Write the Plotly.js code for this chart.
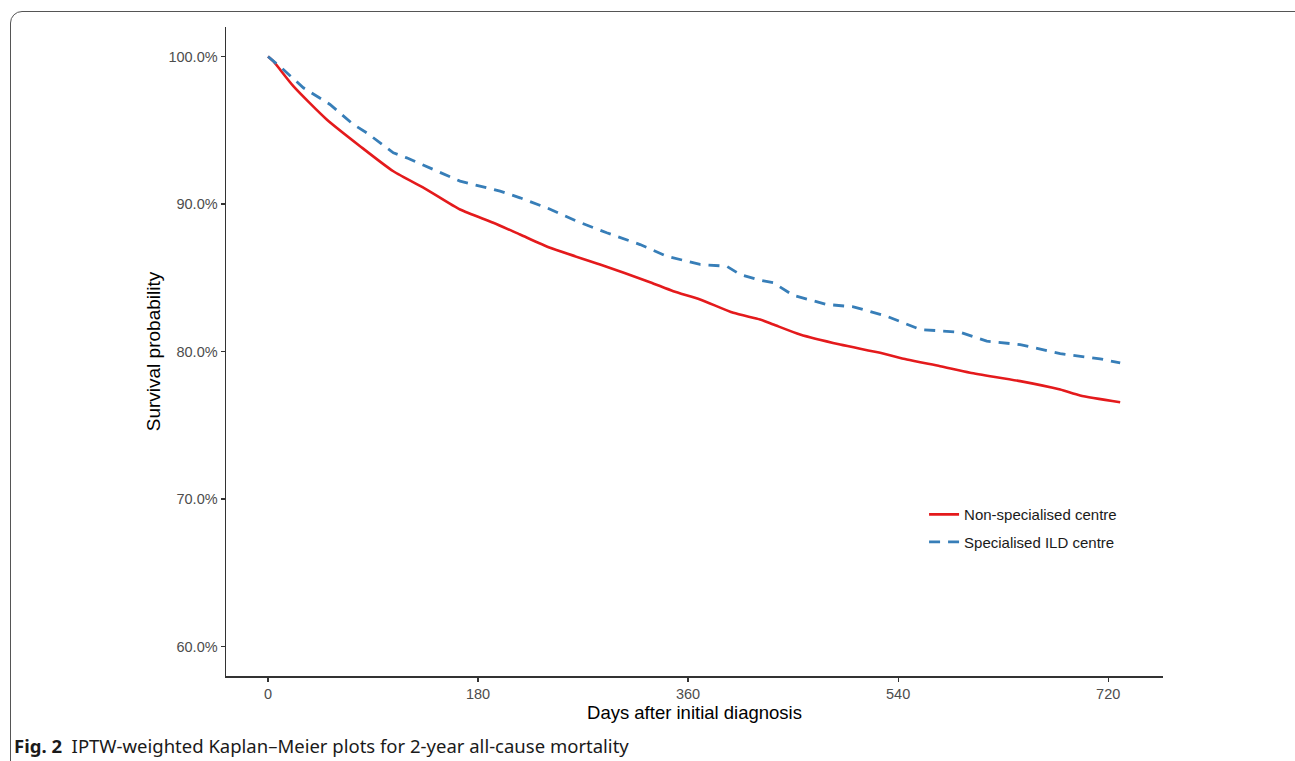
<!DOCTYPE html>
<html>
<head>
<meta charset="utf-8">
<script src="https://cdn.plot.ly/plotly-3.0.1.min.js"></script>
<style>
  html, body { margin: 0; padding: 0; background: #ffffff; }
  #wrap { position: relative; width: 1295px; height: 761px; overflow: hidden; }
  #frame { position: absolute; left: 10px; top: 11px; width: 1300px; height: 800px;
           border: 1.5px solid #555555; border-radius: 12px; box-sizing: border-box; }
  #chart { position: absolute; left: 0; top: 0; width: 1295px; height: 761px; }
</style>
</head>
<body>
<div id="wrap">
  <div id="frame"></div>
  <div id="chart"></div>
</div>
<script>
// Days after initial diagnosis and survival probability (%)
const nonSpecDays = [0, 4.5, 21.7, 50.3, 78.9, 107.4, 136, 164.6, 193.1, 216, 241.7, 284.6, 327.4, 347.4, 370.3, 398.8, 421.7, 433.1, 456, 490.3, 524.6, 547.5, 576, 601.7, 644.6, 678.9, 696, 730.3];
const nonSpecSurv = [100.0, 99.68, 97.99, 95.73, 93.92, 92.22, 90.98, 89.63, 88.73, 87.93, 87.03, 85.90, 84.70, 84.09, 83.53, 82.62, 82.17, 81.83, 81.15, 80.47, 79.91, 79.46, 79.00, 78.56, 77.99, 77.42, 77.02, 76.56];

const specDays = [0, 13.1, 30.3, 53.1, 73.1, 84.6, 107.4, 118.9, 141.7, 164.6, 187.4, 198.9, 216, 238.9, 264.6, 290.3, 318.9, 341.7, 370.3, 393.1, 404.6, 421.7, 433.1, 450.3, 478.9, 501.7, 530.3, 558.9, 593.1, 616, 644.6, 678.9, 713.1, 730.3];
const specSurv = [100.0, 99.12, 97.88, 96.75, 95.39, 94.83, 93.47, 93.13, 92.34, 91.55, 91.10, 90.87, 90.42, 89.74, 88.83, 88.05, 87.25, 86.46, 85.90, 85.78, 85.22, 84.83, 84.66, 83.80, 83.19, 83.03, 82.39, 81.49, 81.31, 80.70, 80.47, 79.86, 79.50, 79.23];

const seriesNames = ["Non-specialised centre", "Specialised ILD centre"];
const xTicks = [0, 180, 360, 540, 720];
const yTicks = [60, 70, 80, 90, 100];
const yTickLabels = ["60.0%", "70.0%", "80.0%", "90.0%", "100.0%"];

const traces = [
  { x: nonSpecDays, y: nonSpecSurv, name: seriesNames[0], type: "scatter", mode: "lines",
    legendgroup: "a", line: { color: "#E41A1C", width: 2.6, shape: "spline", smoothing: 0.6 } },
  { x: specDays, y: specSurv, name: seriesNames[1], type: "scatter", mode: "lines",
    legendgroup: "b", line: { color: "#377EB8", width: 2.8, dash: "11px,8px" } }
];

const axisCommon = {
  showgrid: false, zeroline: false, showline: true, linecolor: "#333333", linewidth: 1.5,
  ticks: "outside", ticklen: 4, tickwidth: 1.2, tickcolor: "#333333",
  tickfont: { family: "Liberation Sans, Arial, sans-serif", size: 14.5, color: "#4d4d4d" },
  automargin: false
};

const layout = {
  width: 1295, height: 761,
  paper_bgcolor: "rgba(0,0,0,0)", plot_bgcolor: "rgba(0,0,0,0)",
  margin: { l: 226, r: 132, t: 27, b: 85 },
  font: { family: "Liberation Sans, Arial, sans-serif", color: "#000000" },
  xaxis: Object.assign({}, axisCommon, {
    range: [-36, 767], tickvals: xTicks, ticktext: xTicks.map(String),
    title: { text: "Days after initial diagnosis", font: { size: 18.5, color: "#000000" }, standoff: 5 }
  }),
  yaxis: Object.assign({}, axisCommon, {
    range: [58.0, 102.0], tickvals: yTicks, ticktext: yTickLabels,
    title: { text: "Survival probability", font: { size: 19, color: "#000000" }, standoff: 3 }
  }),
  showlegend: true,
  legend: {
    x: 0.745, y: 0.274, xanchor: "left", yanchor: "top",
    bgcolor: "rgba(0,0,0,0)", traceorder: "grouped", tracegroupgap: 5,
    font: { family: "Liberation Sans, Arial, sans-serif", size: 15, color: "#1a1a1a" }
  },
  annotations: [{
    xref: "paper", yref: "paper", x: -214 / 937, y: -69 / 649, xanchor: "left", yanchor: "middle",
    showarrow: false, align: "left",
    text: "<b>Fig. 2</b>  IPTW-weighted Kaplan–Meier plots for 2-year all-cause mortality",
    font: { family: "Noto Sans, Open Sans, sans-serif", size: 18.5, color: "#1a1a1a" }
  }]
};

Plotly.newPlot("chart", traces, layout, { displayModeBar: false, staticPlot: true });
</script>
</body>
</html>
